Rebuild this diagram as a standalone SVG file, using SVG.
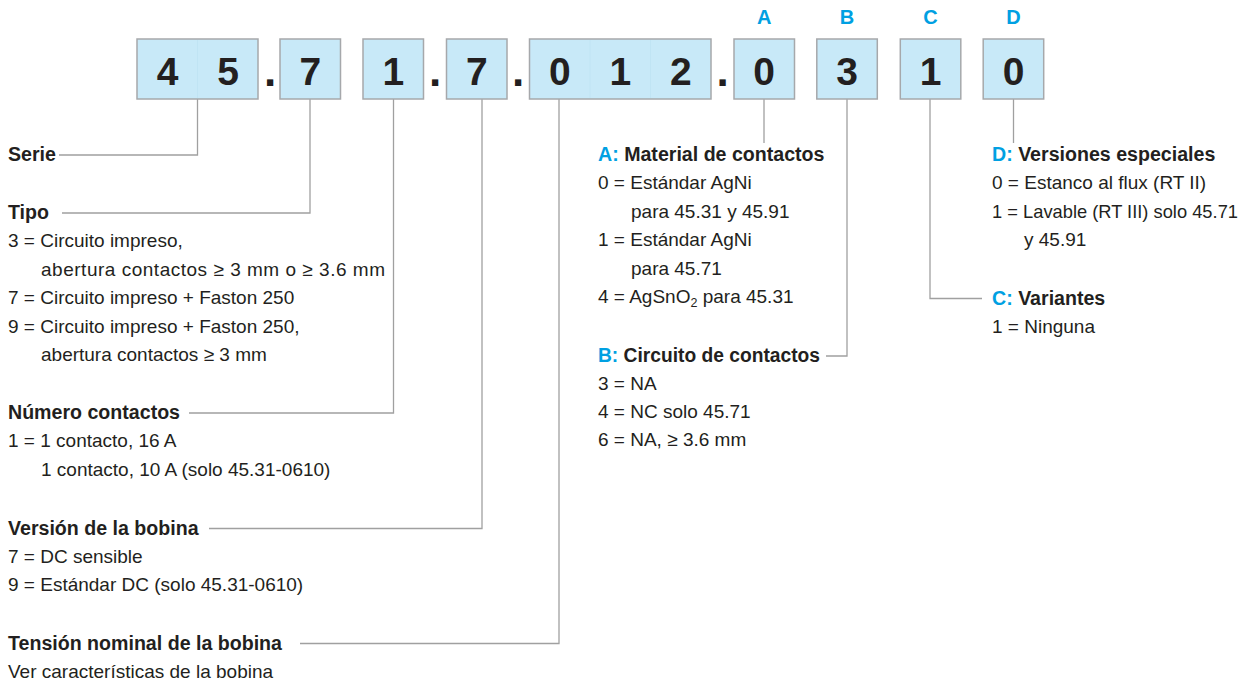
<svg xmlns="http://www.w3.org/2000/svg" width="1252" height="682" viewBox="0 0 1252 682">
<style>
.box{fill:#c8e9f8;stroke:#a6a8ab;stroke-width:1.5}
.div{stroke:#c0e4f4;stroke-width:1}
.dig{font-family:"Liberation Sans",Arial,sans-serif;font-weight:bold;font-size:39px;fill:#231f20;text-anchor:middle}
.dot{font-family:"Liberation Sans",Arial,sans-serif;font-weight:bold;font-size:44px;fill:#231f20;text-anchor:middle}
.key{font-family:"Liberation Sans",Arial,sans-serif;font-weight:bold;font-size:20px;fill:#00a0e2;text-anchor:middle}
.h{font-family:"Liberation Sans",Arial,sans-serif;font-weight:bold;font-size:19.6px;fill:#231f20}
.t{font-family:"Liberation Sans",Arial,sans-serif;font-size:19px;fill:#231f20}
.b{fill:#00a0e2}
.conn path{fill:none;stroke:#a0a0a0;stroke-width:1.3}
</style>
<g id="connectors" class="conn">
<path d="M197.5,99 V155 H59"/>
<path d="M310,99 V213 H62"/>
<path d="M393.5,99 V413 H189"/>
<path d="M482,99 V528.5 H209"/>
<path d="M559,99 V643.5 H300"/>
<path d="M764,99 V143"/>
<path d="M847,99 V356 H826"/>
<path d="M930,99 V298.5 H982"/>
<path d="M1013.5,99 V143"/>
</g>
<g id="code">
<g id="box-45"><rect class="box" x="137" y="39" width="121" height="60"/><line class="div" x1="197.5" y1="40" x2="197.5" y2="98"/><text class="dig" x="167.5" y="85">4</text><text class="dig" x="228" y="85">5</text></g>
<text class="dot" x="270" y="86">.</text>
<g id="box-7a"><rect class="box" x="280" y="39" width="60.5" height="60"/><text class="dig" x="310.3" y="85">7</text></g>
<g id="box-1"><rect class="box" x="363" y="39" width="60.5" height="60"/><text class="dig" x="393.3" y="85">1</text></g>
<text class="dot" x="435" y="86">.</text>
<g id="box-7b"><rect class="box" x="446.5" y="39" width="60.5" height="60"/><text class="dig" x="476.8" y="85">7</text></g>
<text class="dot" x="518" y="86">.</text>
<g id="box-012"><rect class="box" x="529.5" y="39" width="181.5" height="60"/><line class="div" x1="590" y1="40" x2="590" y2="98"/><line class="div" x1="650.5" y1="40" x2="650.5" y2="98"/><text class="dig" x="559.8" y="85">0</text><text class="dig" x="620.3" y="85">1</text><text class="dig" x="680.8" y="85">2</text></g>
<text class="dot" x="722.5" y="86">.</text>
<g id="box-A"><text class="key" x="764.2" y="24">A</text><rect class="box" x="734" y="39" width="60.5" height="60"/><text class="dig" x="764.2" y="85">0</text></g>
<g id="box-B"><text class="key" x="847" y="24">B</text><rect class="box" x="816.8" y="39" width="60.5" height="60"/><text class="dig" x="847" y="85">3</text></g>
<g id="box-C"><text class="key" x="930.5" y="24">C</text><rect class="box" x="900.3" y="39" width="60.5" height="60"/><text class="dig" x="930.5" y="85">1</text></g>
<g id="box-D"><text class="key" x="1013.5" y="24">D</text><rect class="box" x="983.2" y="39" width="60.5" height="60"/><text class="dig" x="1013.5" y="85">0</text></g>
</g>
<g id="serie"><text class="h" x="8" y="161">Serie</text></g>
<g id="tipo">
<text class="h" x="8" y="219">Tipo</text>
<text class="t" x="8" y="247.4">3 = Circuito impreso,</text>
<text class="t" x="41" y="275.8" textLength="344" lengthAdjust="spacing">abertura contactos ≥ 3 mm o ≥ 3.6 mm</text>
<text class="t" x="8" y="304.2">7 = Circuito impreso + Faston 250</text>
<text class="t" x="8" y="332.6">9 = Circuito impreso + Faston 250,</text>
<text class="t" x="41" y="361">abertura contactos ≥ 3 mm</text>
</g>
<g id="numero">
<text class="h" x="8" y="419">Número contactos</text>
<text class="t" x="8" y="447.4">1 = 1 contacto, 16 A</text>
<text class="t" x="41" y="475.8">1 contacto, 10 A (solo 45.31-0610)</text>
</g>
<g id="version">
<text class="h" x="8" y="534.5">Versión de la bobina</text>
<text class="t" x="8" y="562.9">7 = DC sensible</text>
<text class="t" x="8" y="591.3">9 = Estándar DC (solo 45.31-0610)</text>
</g>
<g id="tension">
<text class="h" x="8" y="649.5">Tensión nominal de la bobina</text>
<text class="t" x="8" y="677.5">Ver características de la bobina</text>
</g>
<g id="A">
<text class="h" x="598" y="161"><tspan class="b">A:</tspan> Material de contactos</text>
<text class="t" x="598" y="189.4">0 = Estándar AgNi</text>
<text class="t" x="631" y="217.8">para 45.31 y 45.91</text>
<text class="t" x="598" y="246.2">1 = Estándar AgNi</text>
<text class="t" x="631" y="274.6">para 45.71</text>
<text class="t" x="598" y="303">4 = AgSnO<tspan font-size="12.5" dy="4">2</tspan><tspan dy="-4"> para 45.31</tspan></text>
</g>
<g id="B">
<text class="h" x="598" y="361.5" textLength="222" lengthAdjust="spacingAndGlyphs"><tspan class="b">B:</tspan> Circuito de contactos</text>
<text class="t" x="598" y="389.6">3 = NA</text>
<text class="t" x="598" y="418">4 = NC solo 45.71</text>
<text class="t" x="598" y="446.4">6 = NA, ≥ 3.6 mm</text>
</g>
<g id="D">
<text class="h" x="992" y="161"><tspan class="b">D:</tspan> Versiones especiales</text>
<text class="t" x="992" y="189.4">0 = Estanco al flux (RT II)</text>
<text class="t" x="992" y="217.8" textLength="246" lengthAdjust="spacingAndGlyphs">1 = Lavable (RT III) solo 45.71</text>
<text class="t" x="1024" y="246.2">y 45.91</text>
</g>
<g id="C">
<text class="h" x="992" y="304.5"><tspan class="b">C:</tspan> Variantes</text>
<text class="t" x="992" y="332.8">1 = Ninguna</text>
</g>
</svg>
